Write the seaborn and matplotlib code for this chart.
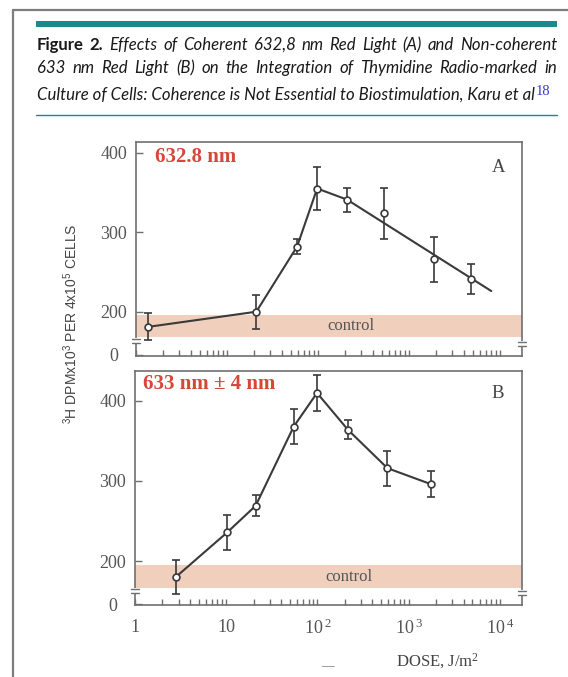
import matplotlib
matplotlib.use("Agg")
import matplotlib.pyplot as plt
import numpy as np
import seaborn as sns
from matplotlib import font_manager as fm
from matplotlib import transforms as mtrans
from matplotlib.lines import Line2D
from matplotlib.patches import Rectangle
from matplotlib.ticker import LogLocator, NullFormatter

# ---------------- data ----------------
dose_a = [1.37, 21, 59, 98, 209, 528, 1870, 4770]
dpm_a = [181, 200, 282, 355, 341, 324, 266, 241]
err_a = [17, 21.5, 10, 27, 15, 32, 28, 19]
line_a_dose = [1.37, 21, 59, 98, 209, 8050]
line_a_dpm = [181, 200, 282, 355, 341, 226]
control_a = [168, 196]

dose_b = [2.8, 10.3, 21, 55, 99, 216, 586, 1760]
dpm_b = [180, 236, 269, 368, 410, 364, 316, 296]
err_b = [21, 22, 13, 22, 22, 12, 22, 16]
control_b = [166, 195]

ytick_vals = [146, 200, 300, 400]
ytick_labels = ["0", "200", "300", "400"]
xtick_vals = [1, 10, 100, 1000, 10000]
xtick_labels = ["1", "10", r"$\mathregular{10^{\,2}}$", r"$\mathregular{10^{\,3}}$", r"$\mathregular{10^{\,4}}$"]

title_line1 = [("Figure", "bold", "normal"), ("2.", "bold", "normal")] + \
    [(w, "normal", "italic") for w in "Effects of Coherent 632,8 nm Red Light (A) and Non-coherent".split()]
title_line2 = [(w, "normal", "italic") for w in "633 nm Red Light (B) on the Integration of Thymidine Radio-marked in".split()]
title_line3 = "Culture of Cells: Coherence is Not Essential to Biostimulation, Karu et al"
title_ref = "18"

# ---------------- style ----------------
sns.set_theme(style="white")
W, H = 568, 677


def has_font(name):
    try:
        fm.findfont(fm.FontProperties(family=name), fallback_to_default=False)
        return True
    except Exception:
        return False


SERIF = "Liberation Serif"
NARROW = "Liberation Sans Narrow" if has_font("Liberation Sans Narrow") else "Liberation Sans"
TITLE_FONT = "Lato" if has_font("Lato") else "DejaVu Sans"
plt.rcParams["font.family"] = [SERIF, "DejaVu Serif"]

INK = "#3a3a3a"
SPINE = "#6f6f6f"
TICKTXT = "#555555"
BAND = "#f0cfbd"
RED = "#d6473a"
TEAL = "#1a8a8c"

fig = plt.figure(figsize=(W / 100, H / 100), dpi=100)
fig.patch.set_facecolor("white")


def fx(px):
    return px / W


def fy(py):
    return 1 - py / H


axA = fig.add_axes([fx(136), fy(356), (522 - 136) / W, (356 - 142) / H])
axB = fig.add_axes([fx(135), fy(605), (522 - 135) / W, (605 - 371) / H])


def add_break(ax, xa, yv):
    base = mtrans.blended_transform_factory(ax.transAxes, ax.transData)
    ax.plot([xa, xa], [yv - 3.5, yv + 3.5], transform=base, color="white", lw=3,
            clip_on=False, zorder=6, solid_capstyle="butt")
    for dy in (-2.0, 2.0):
        tr = mtrans.offset_copy(base, fig=fig, x=0, y=dy, units="dots")
        ax.plot([xa - 0.011, xa + 0.011], [yv, yv], transform=tr, color=SPINE, lw=1.0,
                clip_on=False, zorder=7)


def draw_panel(ax, dose, dpm, err, lx, ly, band, ylim, tag, tag_xy, letter, letter_xy,
               ctrl_x, show_xlabels, breaks):
    ax.set_facecolor("white")
    ax.set_xscale("log")
    ax.axhspan(band[0], band[1], color=BAND, lw=0, zorder=0)
    sns.lineplot(x=lx, y=ly, ax=ax, color=INK, lw=1.5, sort=False, estimator=None, zorder=2)
    ax.errorbar(dose, dpm, yerr=err, fmt="none", ecolor=INK, elinewidth=1.2,
                capsize=3, capthick=1.2, zorder=3)
    sns.scatterplot(x=dose, y=dpm, ax=ax, marker="o", s=24, color="white",
                    edgecolor=INK, linewidth=1.2, zorder=4)
    ax.set_xlim(1, 17500)
    ax.set_ylim(*ylim)
    ax.set_xlabel("")
    ax.set_ylabel("")
    for s in ax.spines.values():
        s.set_color(SPINE)
        s.set_linewidth(1.2)
        s.set_visible(True)
    ax.set_yticks(ytick_vals, labels=ytick_labels)
    ax.tick_params(axis="y", which="major", direction="in", length=5, width=1,
                   color=SPINE, left=True, right=False, pad=16, labelsize=13,
                   labelcolor=TICKTXT)
    for lab in ax.get_yticklabels():
        lab.set_horizontalalignment("center")
    ax.xaxis.set_major_locator(LogLocator(base=10, numticks=10))
    ax.xaxis.set_minor_locator(LogLocator(base=10, subs=np.arange(2, 10), numticks=20))
    ax.xaxis.set_minor_formatter(NullFormatter())
    ax.set_xticks(xtick_vals, labels=xtick_labels)
    ax.set_xlim(1, 17500)
    ax.tick_params(axis="x", which="both", direction="in", length=4, width=1,
                   color=SPINE, bottom=True, top=False, pad=10, labelsize=13,
                   labelcolor=TICKTXT, labelbottom=show_xlabels)
    ax.text(tag_xy[0], tag_xy[1], tag, transform=ax.transAxes, color=RED,
            fontsize=15, fontweight="bold", family=SERIF, ha="left", va="center")
    ax.text(letter_xy[0], letter_xy[1], letter, transform=ax.transAxes, color="#444444",
            fontsize=13.5, family=SERIF, ha="center", va="center")
    ax.text(ctrl_x, (band[0] + band[1]) / 2, "control",
            transform=mtrans.blended_transform_factory(ax.transAxes, ax.transData),
            color="#555555", fontsize=12, family=SERIF, ha="center", va="center", zorder=1)
    for xa, yv in breaks:
        add_break(ax, xa, yv)


draw_panel(axA, dose_a, dpm_a, err_a, line_a_dose, line_a_dpm, control_a, (144.3, 413.5),
           "632.8 nm", (0.049, 0.93), "A", (0.94, 0.879), 0.558, False,
           [(0, 163), (1, 160)])
draw_panel(axB, dose_b, dpm_b, err_b, dose_b, dpm_b, control_b, (145.1, 437.4),
           "633 nm \u00b1 4 nm", (0.021, 0.944), "B", (0.937, 0.904), 0.554, True,
           [(0, 162.5), (1, 160)])

# ---------------- axis titles ----------------
fig.text(fx(71), fy(324),
         r"$\mathregular{^3}$H DPMx10$\mathregular{^3}$ PER 4x10$\mathregular{^5}$ CELLS",
         rotation=90, ha="center", va="center", fontsize=10, family=NARROW, color="#444444")
fig.text(fx(438), fy(661), r"DOSE, J/m$\mathregular{^2}$", ha="center", va="center",
         fontsize=12, family=SERIF, color="#444444")
fig.text(fx(327), fy(666), "\u2014", ha="center", va="center", fontsize=9,
         family=SERIF, color="#666666")

# ---------------- frame and header ----------------
fig.add_artist(Line2D([fx(12.5), fx(12.5)], [fy(10), 0], transform=fig.transFigure,
                      color="#7d7d7d", lw=1.6))
fig.add_artist(Line2D([fx(12.5), 1], [fy(10), fy(10)], transform=fig.transFigure,
                      color="#7d7d7d", lw=1.6))
fig.add_artist(Rectangle((fx(36), fy(26.5)), fx(557) - fx(36), 5.5 / H,
                         transform=fig.transFigure, color=TEAL, lw=0))
fig.add_artist(Line2D([fx(36), fx(557)], [fy(115), fy(115)], transform=fig.transFigure,
                      color=TEAL, lw=1.0))

renderer = fig.canvas.get_renderer()


def measure(s, size, weight="normal", style="normal"):
    t = fig.text(0, 0, s, fontsize=size, family=TITLE_FONT, fontweight=weight, fontstyle=style)
    w = t.get_window_extent(renderer).width
    t.remove()
    return w


w3 = measure(title_line3, 10, style="italic")
tsize = 10 * 497 / w3


def justify(tokens, x0, x1, base_y):
    widths = [measure(w, tsize, wt, st) for w, wt, st in tokens]
    gap = (x1 - x0 - sum(widths)) / (len(tokens) - 1)
    x = x0
    for (w, wt, st), wd in zip(tokens, widths):
        fig.text(fx(x), fy(base_y), w, fontsize=tsize, family=TITLE_FONT, fontweight=wt,
                 fontstyle=st, ha="left", va="baseline", color="#1a1a1a")
        x += wd + gap


justify(title_line1, 37, 557, 50)
justify(title_line2, 37, 557, 73)
fig.text(fx(37), fy(100), title_line3, fontsize=tsize, family=TITLE_FONT, fontstyle="italic",
         ha="left", va="baseline", color="#1a1a1a")
fig.text(fx(37 + 497 + 2), fy(95), title_ref, fontsize=10.5, family=SERIF, color="#3838d0",
         ha="left", va="baseline")

fig.savefig("out.png", dpi=100, facecolor="white")
